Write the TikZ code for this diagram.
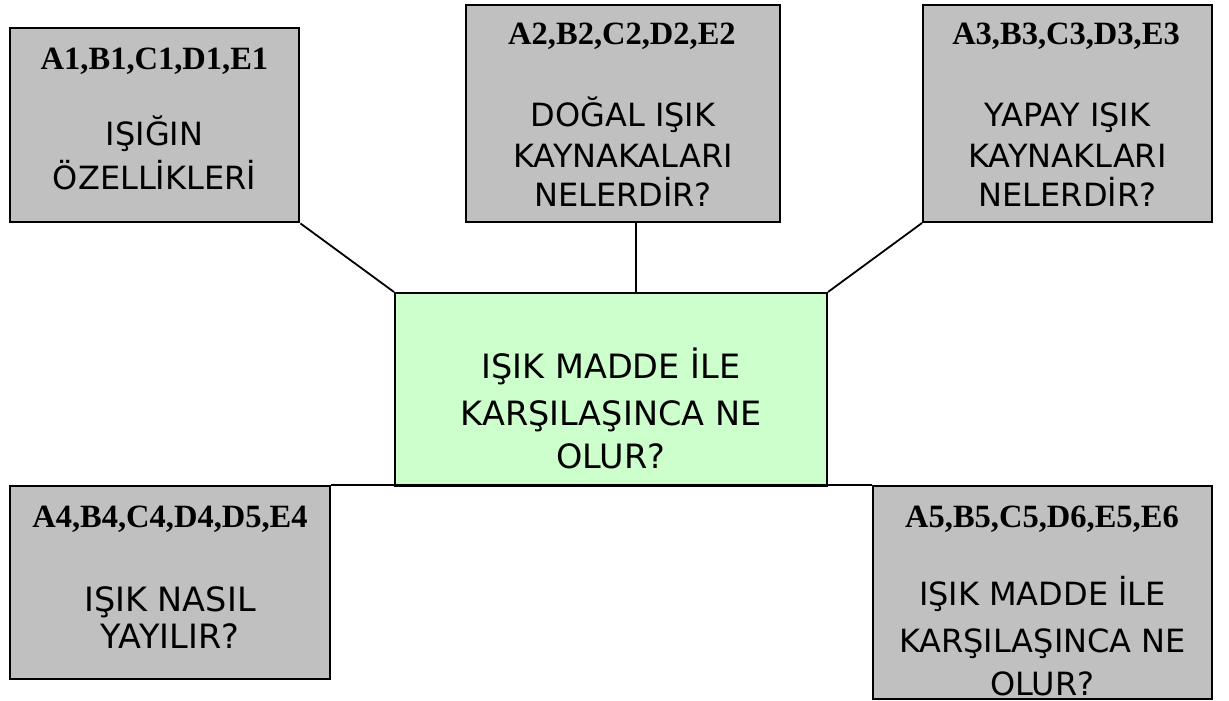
\documentclass[tikz,border=0pt]{standalone}
\usepackage{fontspec}
\setmainfont{DejaVu Sans}
\newfontfamily\hdrfam{Liberation Serif}
\definecolor{boxgray}{HTML}{C0C0C0}
\definecolor{boxgreen}{HTML}{CCFFCC}
\tikzset{
  box/.style={draw=black, line width=2pt, fill=boxgray, inner sep=0pt},
  hdr/.style={font=\hdrfam\bfseries\fontsize{32.5}{32.5}\selectfont, anchor=base, inner sep=0pt},
  txt/.style={font=\fontsize{32}{32}\selectfont, anchor=base, inner sep=0pt},
  bigtxt/.style={txt, font=\fontsize{33.5}{33.5}\selectfont},
  link/.style={draw=black, line width=1.8pt}
}
\begin{document}
\begin{tikzpicture}[x=1pt,y=-1pt]
\useasboundingbox (0,0) rectangle (1229,701);
% boxes
\node[box, line width=2.8pt, minimum width=289pt, minimum height=194pt] (b1) at (154.5,125) {};
\node[box, minimum width=314pt, minimum height=217pt] (b2) at (623,113.5) {};
\node[box, minimum width=289pt, minimum height=217pt] (b3) at (1067.5,113.5) {};
\node[box, fill=boxgreen, minimum width=432pt, minimum height=193pt] (g) at (611,389.5) {};
\node[box, minimum width=320pt, minimum height=193pt] (b4) at (170,582.5) {};
\node[box, minimum width=339pt, minimum height=213pt] (b5) at (1042.5,592.5) {};
% connectors
\draw[link] (b1.south east) -- (g.north west);
\draw[link] ([xshift=13pt]b2.south) -- ([xshift=25pt]g.north);
\draw[link] (b3.south west) -- (g.north east);
\draw[link] (b4.north east) -- (b5.north west);
% box 1
\node[hdr] (h1) at (154.5,70) {A1,B1,C1,D1,E1};
\node[txt] (t1a) at (154.5,145) {IŞIĞIN};
\node[txt] (t1b) at (154.5,189) {ÖZELLİKLERİ};
% box 2
\node[hdr] (h2) at (622,45) {A2,B2,C2,D2,E2};
\node[txt] (t2a) at (623,126) {DOĞAL IŞIK};
\node[txt] (t2b) at (623,167) {KAYNAKALARI};
\node[txt] (t2c) at (623,206) {NELERDİR?};
% box 3
\node[hdr] (h3) at (1066,45) {A3,B3,C3,D3,E3};
\node[txt] (t3a) at (1067.5,126) {YAPAY IŞIK};
\node[txt] (t3b) at (1067.5,167) {KAYNAKLARI};
\node[txt] (t3c) at (1067.5,206) {NELERDİR?};
% centre
\node[bigtxt] (ga) at (611,378) {IŞIK MADDE İLE};
\node[bigtxt] (gb) at (611,425) {KARŞILAŞINCA NE};
\node[bigtxt] (gc) at (611,468) {OLUR?};
% box 4
\node[hdr] (h4) at (170,527) {A4,B4,C4,D4,D5,E4};
\node[bigtxt] (t4a) at (170,611) {IŞIK NASIL};
\node[bigtxt] (t4b) at (170,648) {YAYILIR?};
% box 5
\node[hdr] (h5) at (1042,527) {A5,B5,C5,D6,E5,E6};
\node[txt] (t5a) at (1042.5,605) {IŞIK MADDE İLE};
\node[txt] (t5b) at (1042.5,652) {KARŞILAŞINCA NE};
\node[txt] (t5c) at (1042.5,695) {OLUR?};
\end{tikzpicture}
\end{document}
